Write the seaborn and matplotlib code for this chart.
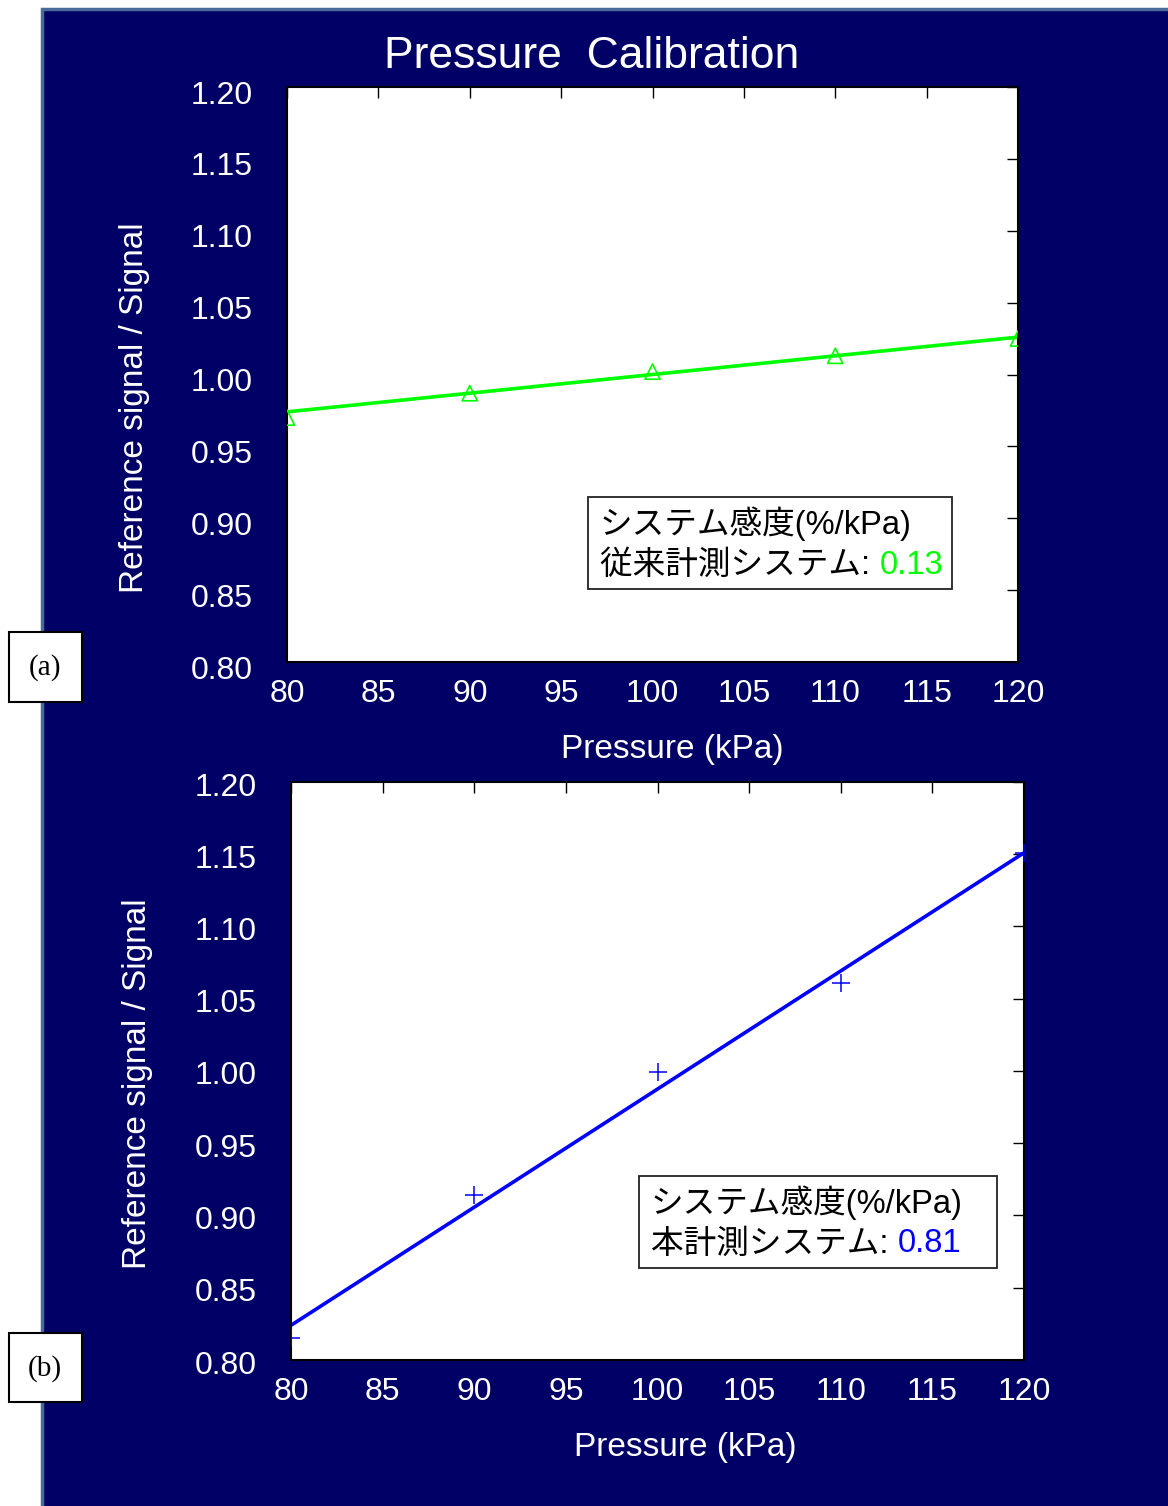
import numpy as np
import pandas as pd
import matplotlib.pyplot as plt
import seaborn as sns
from matplotlib.patches import Rectangle
from matplotlib.text import Annotation
from matplotlib.transforms import ScaledTranslation

# ---- data ----
pressure = [80, 90, 100, 110, 120]
signal_a = [0.970, 0.987, 1.002, 1.013, 1.025]   # conventional system
signal_b = [0.815, 0.914, 0.999, 1.061, 1.151]   # this system
fit_x = [80, 120]
fit_a = [0.974, 1.026]
fit_b = [0.824, 1.151]
sens_a = "0.13"
sens_b = "0.81"
x_ticks = [80, 85, 90, 95, 100, 105, 110, 115, 120]
y_ticks = [0.80, 0.85, 0.90, 0.95, 1.00, 1.05, 1.10, 1.15, 1.20]

sns.set_style("white")
plt.rcParams["font.family"] = ["Liberation Sans", "Noto Sans CJK JP"]

W, H = 1168, 1506
NAVY = "#000066"
fig = plt.figure(figsize=(W / 100, H / 100), dpi=100, facecolor="white")


def fx(x):
    return x / W


def fy(y):
    return 1 - y / H


# navy slide background with a thin steel-blue border
fig.patches.append(Rectangle((fx(41.5), fy(1515)), fx(1140), 1515 / H - 8.5 / H,
                             transform=fig.transFigure, facecolor=NAVY,
                             edgecolor="#4a6a98", linewidth=2.5, zorder=-10))

fig.text(fx(592), fy(57), "Pressure  Calibration", ha="center", va="center",
         fontsize=32, color="white")

panels = [
    dict(rect=(287, 87, 1018, 662), y=signal_a, fit=fit_a, color="#00ff00",
         marker="^", label="(a)", lab_y=(632, 702), ylab_pos=0.443,
         ytick_shift=5, xlab_shift=20,
         box=(588, 497, 952, 589), line2="従来計測システム: ", sens=sens_a),
    dict(rect=(291, 782, 1024, 1360), y=signal_b, fit=fit_b, color="#0000ff",
         marker="+", label="(b)", lab_y=(1333, 1402), ylab_pos=0.4775,
         ytick_shift=2, xlab_shift=28,
         box=(639, 1176, 997, 1268), line2="本計測システム: ", sens=sens_b),
]

for p in panels:
    l, t, r, b = p["rect"]
    ax = fig.add_axes([fx(l), fy(b), fx(r - l), (b - t) / H])
    ax.set_facecolor("white")

    df = pd.DataFrame({"Pressure": pressure, "Signal": p["y"]})
    fit_df = pd.DataFrame({"Pressure": fit_x, "Signal": p["fit"]})
    sns.lineplot(data=fit_df, x="Pressure", y="Signal", ax=ax,
                 color=p["color"], linewidth=2.6)
    if p["marker"] == "^":
        sns.scatterplot(data=df, x="Pressure", y="Signal", ax=ax, marker="^",
                        s=120, facecolors="none", edgecolor=p["color"],
                        linewidth=1.2, zorder=3)
    else:
        sns.scatterplot(data=df, x="Pressure", y="Signal", ax=ax, marker="+",
                        s=160, color=p["color"], linewidth=1.1, zorder=3)

    ax.set_xlim(80, 120)
    ax.set_ylim(0.80, 1.20)
    ax.set_xticks(x_ticks)
    ax.set_yticks(y_ticks)
    ax.set_yticklabels([f"{v:.2f}" for v in y_ticks])
    ax.tick_params(direction="in", length=8, width=1, color="black",
                   top=True, right=True, labelcolor="white", labelsize=23)
    ax.tick_params(axis="y", pad=25)
    ax.tick_params(axis="x", pad=12)
    shift = ScaledTranslation(0, -p["ytick_shift"] / 100, fig.dpi_scale_trans)
    for lab in ax.get_yticklabels():
        lab.set_transform(lab.get_transform() + shift)
    for s in ax.spines.values():
        s.set_color("black")
        s.set_linewidth(1.5)

    ax.set_xlabel("Pressure (kPa)", color="white", fontsize=24)
    ax.set_ylabel("Reference signal / Signal", color="white", fontsize=24)
    ax.xaxis.set_label_coords(0.5 + p["xlab_shift"] / (r - l), -0.125)
    ax.yaxis.set_label_coords(-0.188, p["ylab_pos"])

    # sensitivity box
    bl, bt, br, bb = p["box"]
    fig.patches.append(Rectangle((fx(bl), fy(bb)), fx(br - bl), (bb - bt) / H,
                                 transform=fig.transFigure, facecolor="white",
                                 edgecolor="#222222", linewidth=1.3, zorder=5))
    fig.text(fx(bl + 12), fy(bt + 27), "システム感度(%/kPa)", ha="left",
             va="center", fontsize=23.5, color="black", zorder=6)
    t2 = fig.text(fx(bl + 12), fy(bt + 68), p["line2"], ha="left",
                  va="center", fontsize=23.5, color="black", zorder=6)
    fig.add_artist(Annotation(p["sens"], xy=(1, 0.5), xycoords=t2, ha="left",
                              va="center", fontsize=23.5, color=p["color"],
                              zorder=6))

    # panel label
    y0, y1 = p["lab_y"]
    fig.patches.append(Rectangle((fx(8.5), fy(y1)), fx(73), (y1 - y0) / H,
                                 transform=fig.transFigure, facecolor="white",
                                 edgecolor="black", linewidth=1.5, zorder=5))
    fig.text(fx(45), fy((y0 + y1) / 2 + 1), p["label"], ha="center", va="center",
             fontsize=21, family="Liberation Serif", color="black", zorder=6)

fig.savefig("out.png", dpi=100, facecolor="white")
